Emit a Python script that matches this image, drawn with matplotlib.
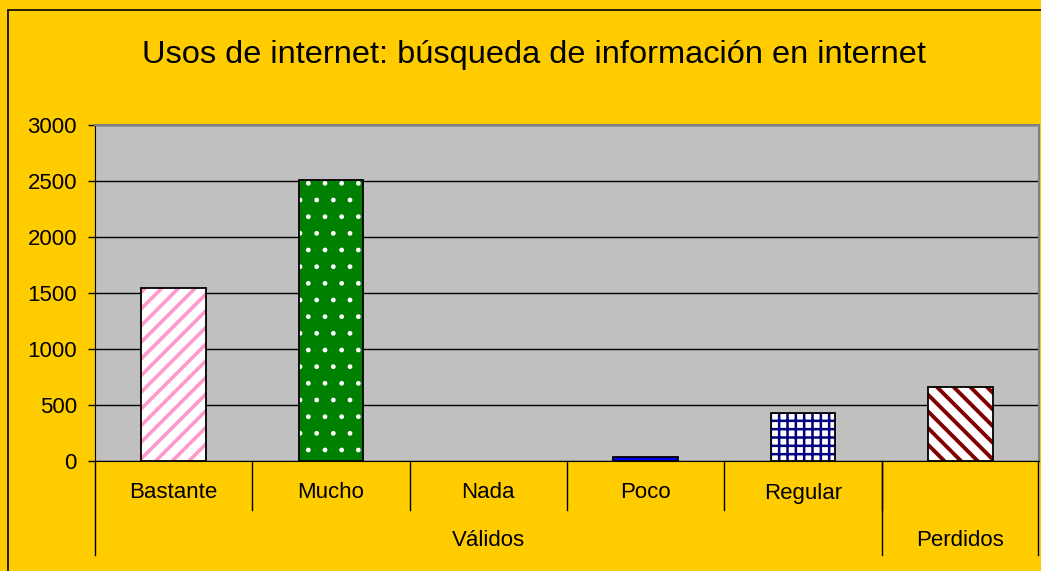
import matplotlib

matplotlib.use("Agg")
import matplotlib.pyplot as plt
from matplotlib.lines import Line2D
from matplotlib.patches import Rectangle
import numpy as np

plt.rcParams["font.family"] = ["Liberation Sans", "DejaVu Sans"]

title = "Usos de internet: búsqueda de información en internet"
categories = ["Bastante", "Mucho", "Nada", "Poco", "Regular", ""]
values = [1545, 2510, 0, 40, 425, 660]
groups = ["Válidos", "Perdidos"]
group_sizes = [5, 1]
y_ticks = [0, 500, 1000, 1500, 2000, 2500, 3000]

W, H = 1041, 571
fig = plt.figure(figsize=(W / 100, H / 100), dpi=100, facecolor="#FFCC00")

# outer chart border (only left/top visible in the crop)
fig.patches.append(Rectangle((8 / W, -0.1), 1.2, (H - 10) / H + 0.1,
                             transform=fig.transFigure, fill=False,
                             edgecolor="black", linewidth=1.2))

x0, x1, ytop, ybot = 95, 1039, 125, 461
ax = fig.add_axes([x0 / W, (H - ybot) / H, (x1 - x0) / W, (ybot - ytop) / H])
ax.set_facecolor("#C0C0C0")

n = len(categories)
pos = np.arange(n)
styles = [
    dict(face="white", hatch="//", hcolor="#FF99CC", hlw=2.6),
    dict(face="#008000", hatch=".", hcolor="white", hlw=1.0),
    dict(face="white", hatch="", hcolor="black", hlw=1.0),
    dict(face="#0000FF", hatch="", hcolor="#0000FF", hlw=1.0),
    dict(face="white", hatch="++", hcolor="#000080", hlw=1.8),
    dict(face="white", hatch="\\\\", hcolor="#800000", hlw=2.8),
]
width = 0.41
for i, (v, st) in enumerate(zip(values, styles)):
    if v <= 0:
        continue
    with plt.rc_context({"hatch.linewidth": st["hlw"]}):
        b = ax.bar(pos[i], v, width=width, color=st["face"], hatch=st["hatch"],
                   edgecolor=st["hcolor"], linewidth=0, zorder=2)
        for p in b:
            try:
                p.set_hatch_linewidth(st["hlw"])
            except AttributeError:
                pass
    ax.bar(pos[i], v, width=width, fill=False, edgecolor="black",
           linewidth=1.3, zorder=3)

ax.set_xlim(-0.5, n - 0.5)
ax.set_ylim(0, 3000)
ax.set_yticks(y_ticks)
ax.set_yticklabels([str(t) for t in y_ticks], fontsize=16)
ax.set_xticks([])
ax.yaxis.grid(True, color="black", linewidth=1.0)
ax.set_axisbelow(True)
ax.tick_params(axis="y", length=5, width=1, pad=8, colors="black")
for side in ["top", "right"]:
    ax.spines[side].set_color("#808080")
    ax.spines[side].set_linewidth(1.5)
ax.spines["left"].set_color("black")
ax.spines["bottom"].set_color("black")


def fx(px):
    return px / W


def fy(py):
    return 1 - py / H


slot = (x1 - x0) / n
# category labels and short separators
for i, c in enumerate(categories):
    cx = x0 + slot * (i + 0.5)
    if c:
        fig.text(fx(cx), fy(493), c, ha="center", va="center", fontsize=16)
for i in range(1, n):
    xs = x0 + slot * i
    fig.lines.append(Line2D([fx(xs), fx(xs)], [fy(ybot), fy(510)],
                            transform=fig.transFigure, color="black", linewidth=1.0))

# group labels and long separators
start = 0
edges = [x0]
for g, size in zip(groups, group_sizes):
    gx = x0 + slot * (start + size / 2)
    fig.text(fx(gx), fy(540), g, ha="center", va="center", fontsize=16)
    start += size
    edges.append(x0 + slot * start)
for xs in edges:
    xs = min(xs, x1 - 1)
    fig.lines.append(Line2D([fx(xs), fx(xs)], [fy(ybot), fy(555)],
                            transform=fig.transFigure, color="black", linewidth=1.0))

fig.text(fx(534), fy(55), title, ha="center", va="center", fontsize=23.4)

fig.savefig("out.png", dpi=100, facecolor=fig.get_facecolor())
